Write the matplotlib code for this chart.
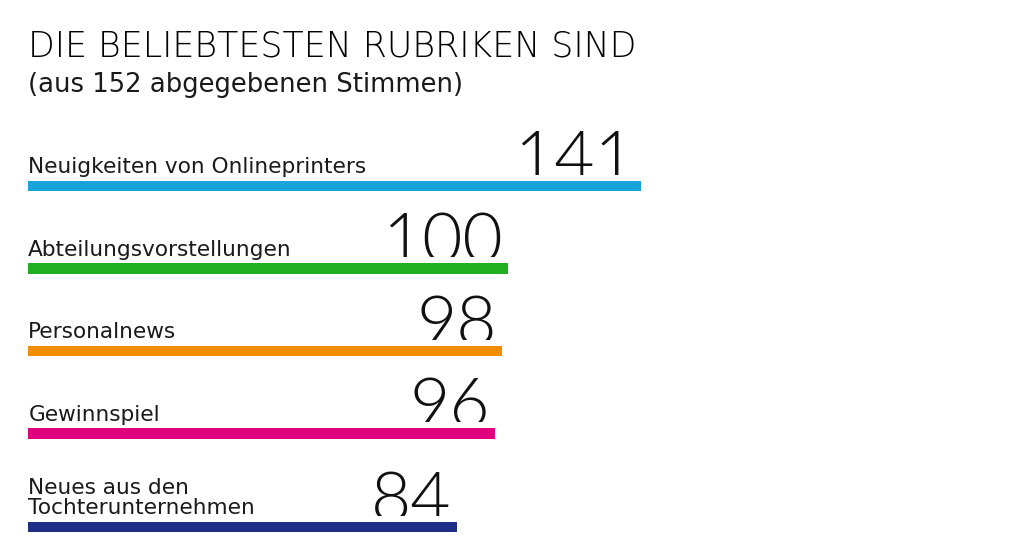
import matplotlib
matplotlib.use("Agg")
import matplotlib.pyplot as plt
from matplotlib.patches import Rectangle
import numpy as np

# ---- data ----
categories = [
    "Neuigkeiten von Onlineprinters",
    "Abteilungsvorstellungen",
    "Personalnews",
    "Gewinnspiel",
    "Neues aus den\nTochterunternehmen",
]
votes = [141, 100, 98, 96, 84]
bar_colors = ["#19A3DB", "#1FAF1F", "#F28C00", "#E0007E", "#1E2D86"]
title = "DIE BELIEBTESTEN RUBRIKEN SIND"
subtitle = "(aus 152 abgegebenen Stimmen)"

# ---- layout ----
W, H = 1024, 556
TEXT_FONT = ["DejaVu Sans"]
NUM_FONT = ["Lato", "DejaVu Sans"]
BASE = -48.7           # value at which bars start
PX_PER_UNIT = 3.23     # horizontal scale
LEFT_PX = 28
first_center = 186
row_gap = 82.5
extra_line_gap = 11
bar_h = 10.5

fig = plt.figure(figsize=(W / 100, H / 100), dpi=100)
ax = fig.add_axes([0, 0, 1, 1])
x0 = BASE - LEFT_PX / PX_PER_UNIT
ax.set_xlim(x0, x0 + W / PX_PER_UNIT)
ax.set_ylim(H, 0)
ax.axis("off")

# row centres (pixel units), extra room for multi-line labels
centers = []
y = first_center
for i, cat in enumerate(categories):
    if i > 0:
        y += row_gap + extra_line_gap * cat.count("\n")
    centers.append(y)
centers = np.array(centers)

vals = np.array(votes, dtype=float)
ax.barh(centers, vals - BASE, left=BASE, height=bar_h, color=bar_colors, zorder=2)

px = 1.0 / PX_PER_UNIT
for c, cat, v in zip(centers, categories, vals):
    top = c - bar_h / 2
    ax.text(BASE + 0.3 * px, top - 7.5, cat, ha="left", va="baseline",
            fontsize=15.6, family=TEXT_FONT, color="#1a1a1a", linespacing=1.0, zorder=3)
    t = ax.text(v - 5 * px, top - 0.5, f"{int(v)}", ha="right", va="baseline",
                fontsize=50, family=NUM_FONT, fontweight=300, color="#111111",
                zorder=3, clip_on=True)
    clip = Rectangle((x0, 0), W / PX_PER_UNIT, top - 6, transform=ax.transData)
    t.set_clip_path(clip)

fig.text(LEFT_PX / W, 1 - 56.7 / H, title, ha="left", va="baseline",
         fontsize=25, family=TEXT_FONT, fontweight=200, color="#000000")
fig.text(LEFT_PX / W, 1 - 91.7 / H, subtitle, ha="left", va="baseline",
         fontsize=18.6, family=TEXT_FONT, color="#1a1a1a")

fig.savefig("out.png", dpi=100, facecolor="white")
